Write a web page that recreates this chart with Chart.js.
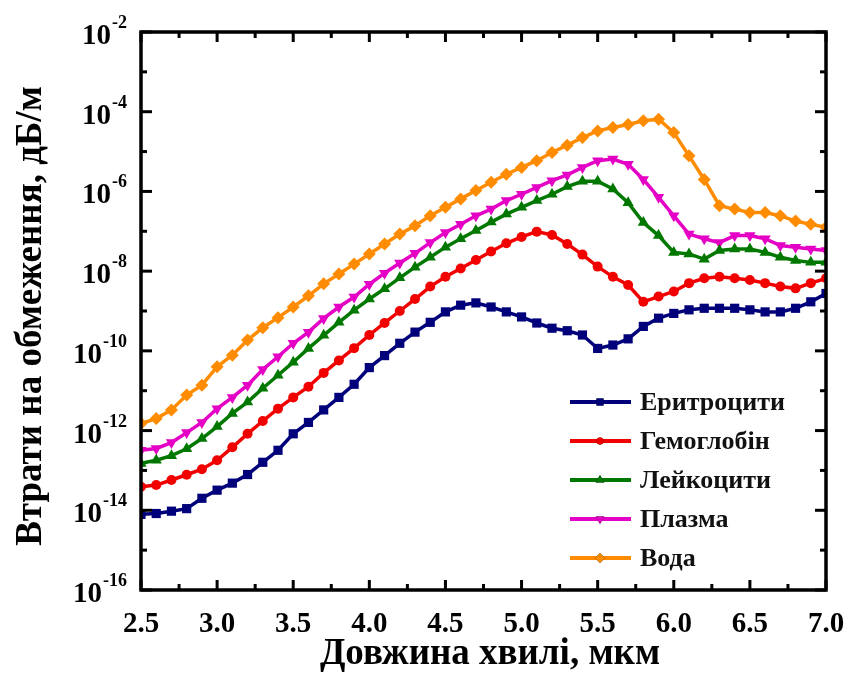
<!DOCTYPE html>
<html>
<head>
<meta charset="utf-8">
<script src="https://cdn.jsdelivr.net/npm/chart.js@4.4.0/dist/chart.umd.min.js"></script>
<style>
  html, body { margin: 0; padding: 0; background: #fff; }
  canvas { display: block; }
</style>
</head>
<body>
<canvas id="chart" width="851" height="673"></canvas>
<script>
// Wavelength, um
const wavelengths = [2.5, 2.6, 2.7, 2.8, 2.9, 3.0, 3.1, 3.2, 3.3, 3.4, 3.5, 3.6, 3.7, 3.8, 3.9, 4.0,
  4.1, 4.2, 4.3, 4.4, 4.5, 4.6, 4.7, 4.8, 4.9, 5.0, 5.1, 5.2, 5.3, 5.4, 5.5, 5.6, 5.7, 5.8, 5.9, 6.0,
  6.1, 6.2, 6.3, 6.4, 6.5, 6.6, 6.7, 6.8, 6.9, 7.0];

// Confinement loss, dB/m
const eritrocyty = [7.9e-15, 8.3e-15, 9.5e-15, 1.1e-14, 2.0e-14, 3.2e-14, 4.8e-14, 7.9e-14, 1.6e-13, 3.2e-13,
  8.3e-13, 1.6e-12, 3.3e-12, 6.8e-12, 1.45e-11, 3.8e-11, 7.6e-11, 1.55e-10, 2.95e-10, 5.2e-10,
  9.5e-10, 1.4e-9, 1.6e-9, 1.26e-9, 9.5e-10, 7.1e-10, 5.0e-10, 3.7e-10, 3.2e-10, 2.5e-10,
  1.15e-10, 1.4e-10, 2.0e-10, 4.1e-10, 6.6e-10, 8.7e-10, 1.07e-9, 1.17e-9, 1.17e-9, 1.17e-9,
  1.07e-9, 9.5e-10, 9.5e-10, 1.17e-9, 1.7e-9, 2.75e-9];
const hemoglobin = [3.9e-14, 4.3e-14, 5.75e-14, 7.8e-14, 1.07e-13, 1.8e-13, 3.8e-13, 8.3e-13, 1.74e-12, 3.55e-12,
  6.8e-12, 1.26e-11, 2.8e-11, 5.75e-11, 1.17e-10, 2.5e-10, 5.0e-10, 1.0e-9, 2.0e-9, 4.1e-9,
  7.2e-9, 1.17e-8, 1.9e-8, 3.1e-8, 5.0e-8, 7.2e-8, 9.8e-8, 8.1e-8, 4.8e-8, 2.6e-8,
  1.3e-8, 7.2e-9, 4.5e-9, 1.7e-9, 2.3e-9, 3.1e-9, 5.0e-9, 6.6e-9, 7.2e-9, 6.6e-9,
  6.0e-9, 5.0e-9, 4.1e-9, 3.7e-9, 5.0e-9, 6.6e-9];
const leikocyty = [1.5e-13, 1.8e-13, 2.35e-13, 3.5e-13, 6.3e-13, 1.26e-12, 2.7e-12, 5.2e-12, 1.15e-11, 2.45e-11,
  5.2e-11, 1.15e-10, 2.45e-10, 5.2e-10, 1.05e-9, 2.0e-9, 3.6e-9, 6.8e-9, 1.26e-8, 2.24e-8,
  4.0e-8, 6.5e-8, 1.05e-7, 1.7e-7, 2.7e-7, 4.0e-7, 5.9e-7, 8.5e-7, 1.32e-6, 1.8e-6,
  1.8e-6, 1.15e-6, 5.2e-7, 1.66e-7, 7.8e-8, 2.95e-8, 2.7e-8, 2.0e-8, 3.3e-8, 3.6e-8,
  3.6e-8, 2.95e-8, 2.24e-8, 1.86e-8, 1.66e-8, 1.66e-8];
const plazma = [3.2e-13, 3.55e-13, 5.0e-13, 8.9e-13, 1.6e-12, 3.55e-12, 6.8e-12, 1.38e-11, 3.4e-11, 7.1e-11,
  1.55e-10, 2.95e-10, 6.5e-10, 1.26e-9, 2.24e-9, 4.7e-9, 8.9e-9, 1.6e-8, 2.8e-8, 5.2e-8,
  9.3e-8, 1.5e-7, 2.45e-7, 3.6e-7, 5.9e-7, 8.5e-7, 1.26e-6, 1.86e-6, 2.6e-6, 4.0e-6,
  5.9e-6, 6.5e-6, 4.8e-6, 2.0e-6, 7.1e-7, 2.45e-7, 8.5e-8, 6.5e-8, 5.2e-8, 7.8e-8,
  7.8e-8, 6.5e-8, 4.4e-8, 4.0e-8, 3.6e-8, 3.3e-8];
const voda = [1.5e-12, 2.0e-12, 3.3e-12, 7.8e-12, 1.38e-11, 4.0e-11, 7.8e-11, 1.86e-10, 3.8e-10, 6.8e-10,
  1.26e-9, 2.4e-9, 4.8e-9, 8.5e-9, 1.5e-8, 2.7e-8, 4.8e-8, 8.5e-8, 1.38e-7, 2.45e-7,
  4.0e-7, 6.5e-7, 1.05e-6, 1.7e-6, 2.7e-6, 4.0e-6, 5.9e-6, 9.5e-6, 1.45e-5, 2.24e-5,
  3.3e-5, 4.0e-5, 4.8e-5, 5.9e-5, 6.5e-5, 3.0e-5, 7.8e-6, 2.0e-6, 4.4e-7, 3.6e-7,
  2.95e-7, 2.95e-7, 2.45e-7, 1.8e-7, 1.5e-7, 1.26e-7];

const seriesNames = ['Еритроцити', 'Гемоглобін', 'Лейкоцити', 'Плазма', 'Вода'];

const xTicks = [2.5, 3.0, 3.5, 4.0, 4.5, 5.0, 5.5, 6.0, 6.5, 7.0];
const xTickLabels = ['2.5', '3.0', '3.5', '4.0', '4.5', '5.0', '5.5', '6.0', '6.5', '7.0'];
const yTicks = [1e-2, 1e-4, 1e-6, 1e-8, 1e-10, 1e-12, 1e-14, 1e-16];
const yTickExponents = ['-2', '-4', '-6', '-8', '-10', '-12', '-14', '-16'];
const yMinorTicks = [1e-3, 1e-5, 1e-7, 1e-9, 1e-11, 1e-13, 1e-15];

const xTitle = 'Довжина хвилі, мкм';
const yTitle = 'Втрати на обмеження, дБ/м';

const FONT = '"Liberation Serif", "Times New Roman", serif';

const styles = [
  { color: '#00007a', pointStyle: 'rect', radius: 6.5, rotation: 0 },
  { color: '#f20000', pointStyle: 'circle', radius: 5, rotation: 0 },
  { color: '#007800', pointStyle: 'triangle', radius: 6.5, rotation: 0 },
  { color: '#e400c4', pointStyle: 'triangle', radius: 6.5, rotation: 180 },
  { color: '#ff8c00', pointStyle: 'rectRot', radius: 6.5, rotation: 0 }
];

const seriesData = [eritrocyty, hemoglobin, leikocyty, plazma, voda];

const datasets = seriesData.map((values, i) => ({
  label: seriesNames[i],
  data: values.map((v, j) => ({ x: wavelengths[j], y: v })),
  borderColor: styles[i].color,
  backgroundColor: styles[i].color,
  borderWidth: 3.5,
  pointStyle: styles[i].pointStyle,
  pointRadius: styles[i].radius,
  pointRotation: styles[i].rotation,
  pointBorderWidth: 0,
  tension: 0
}));

// Frame, inward ticks, tick labels, axis titles and legend
const decorPlugin = {
  id: 'decor',
  afterDatasetsDraw(chart) {
    const { ctx, chartArea: a, scales } = chart;
    const xs = scales.x, ys = scales.y;
    ctx.save();
    ctx.strokeStyle = '#000';
    ctx.lineWidth = 3;
    ctx.lineCap = 'butt';

    const tick = (x1, y1, x2, y2) => {
      ctx.beginPath(); ctx.moveTo(x1, y1); ctx.lineTo(x2, y2); ctx.stroke();
    };

    // x ticks (major every 0.5, minor in between)
    xTicks.forEach((v, i) => {
      const px = xs.getPixelForValue(v);
      tick(px, a.bottom, px, a.bottom - 10);
      tick(px, a.top, px, a.top + 10);
      if (i < xTicks.length - 1) {
        const mx = xs.getPixelForValue((v + xTicks[i + 1]) / 2);
        tick(mx, a.bottom, mx, a.bottom - 6);
        tick(mx, a.top, mx, a.top + 6);
      }
    });

    // y ticks
    yTicks.forEach(v => {
      const py = ys.getPixelForValue(v);
      tick(a.left, py, a.left + 11, py);
      tick(a.right, py, a.right - 11, py);
    });
    yMinorTicks.forEach(v => {
      const py = ys.getPixelForValue(v);
      tick(a.left, py, a.left + 6, py);
      tick(a.right, py, a.right - 6, py);
    });

    // frame
    ctx.lineWidth = 3.5;
    ctx.strokeRect(a.left, a.top, a.right - a.left, a.bottom - a.top);

    // x tick labels
    ctx.fillStyle = '#000';
    ctx.font = 'bold 29px ' + FONT;
    ctx.textAlign = 'center';
    ctx.textBaseline = 'alphabetic';
    xTicks.forEach((v, i) => {
      ctx.fillText(xTickLabels[i], xs.getPixelForValue(v), 632);
    });

    // y tick labels: 10 with superscript exponent
    yTicks.forEach((v, i) => {
      const py = ys.getPixelForValue(v);
      ctx.font = 'bold 18px ' + FONT;
      const ew = ctx.measureText(yTickExponents[i]).width;
      ctx.textAlign = 'left';
      ctx.fillText(yTickExponents[i], 127 - ew, py - 4);
      ctx.font = 'bold 29px ' + FONT;
      ctx.textAlign = 'right';
      ctx.fillText('10', 127 - ew - 1, py + 12);
    });

    // axis titles
    ctx.font = 'bold 37px ' + FONT;
    ctx.textAlign = 'center';
    ctx.textBaseline = 'middle';
    ctx.fillText(xTitle, 490, 654);
    ctx.save();
    ctx.translate(31, 316);
    ctx.rotate(-Math.PI / 2);
    ctx.fillText(yTitle, 0, 0);
    ctx.restore();

    // legend
    ctx.textAlign = 'left';
    ctx.font = 'bold 26px ' + FONT;
    chart.data.datasets.forEach((ds, i) => {
      const ly = 402 + i * 39;
      ctx.strokeStyle = ds.borderColor;
      ctx.lineWidth = 4;
      tick(570, ly, 631, ly);
      Chart.helpers.drawPoint(ctx, {
        pointStyle: ds.pointStyle,
        rotation: ds.pointRotation,
        radius: ds.pointRadius - 1.5,
        borderWidth: 0
      }, 600, ly);
      ctx.fillStyle = ds.backgroundColor;
      ctx.fill();
      ctx.fillStyle = '#111';
      ctx.fillText(ds.label, 640, ly + 1);
    });
    ctx.restore();
  }
};

new Chart(document.getElementById('chart'), {
  type: 'line',
  data: { datasets },
  options: {
    responsive: false,
    animation: false,
    devicePixelRatio: 1,
    layout: { padding: { left: 141, top: 32, right: 25, bottom: 83 } },
    plugins: { legend: { display: false }, tooltip: { enabled: false } },
    scales: {
      x: { type: 'linear', min: 2.5, max: 7.0, display: false },
      y: { type: 'logarithmic', min: 1e-16, max: 1e-2, display: false }
    }
  },
  plugins: [decorPlugin]
});
</script>
</body>
</html>
